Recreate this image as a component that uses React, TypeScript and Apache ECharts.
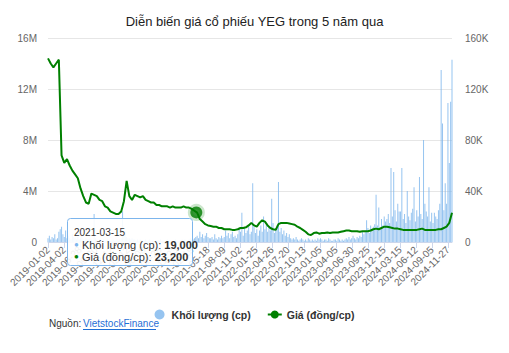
import React, { useEffect, useRef } from "react";
import * as echarts from "echarts";

// x axis: trading-day index, one label every 59 trading days
const tickLabels = [
  "2019-01-02", "2019-04-02", "2019-06-28", "2019-09-20", "2019-12-12",
  "2020-03-12", "2020-06-08", "2020-08-28", "2020-11-23", "2021-02-19",
  "2021-05-18", "2021-08-09", "2021-11-02", "2022-01-25", "2022-04-26",
  "2022-07-20", "2022-10-13", "2023-01-05", "2023-04-05", "2023-06-30",
  "2023-09-25", "2023-12-15", "2024-03-15", "2024-06-12", "2024-09-05",
  "2024-11-27",
];
const tickStep = 59;
const lastIndex = 1490;

// Price (thousand đồng/cp), one reading every 10 trading days
const priceStep = 10;
const priceK = [
  144, 140, 137, 140, 143, 68, 62, 65, 60, 56,
  53, 50, 42, 36, 31, 30, 38, 37, 36, 33,
  32, 28, 27, 24, 23, 22, 22, 24, 32, 48,
  36, 33, 37, 36, 35, 36, 33, 32, 31, 31,
  29, 29, 28, 28, 28, 27, 28, 27, 27, 27,
  28, 27, 27, 26, 24.5, 23, 18, 16, 14, 13,
  12.5, 12, 12, 11, 11, 10, 10, 10, 9.5, 9.5,
  10, 11, 11, 11.5, 13, 15, 13, 12, 15, 17,
  16, 13, 11, 10, 9.5, 14, 15, 15, 15, 14.5,
  14, 13.5, 12, 11, 9.5, 8, 6, 5.5, 7, 7.5,
  6.5, 7, 7, 7.5, 7, 7.5, 7.5, 7.5, 8, 8.5,
  9, 9, 8.5, 8.5, 8.5, 8, 8.5, 8.5, 8.5, 9,
  10, 10.5, 10, 11, 12, 12, 11.5, 11, 10.5, 10.5,
  10, 9.5, 9.5, 9.5, 9.5, 9.5, 9.5, 10, 10.5, 9.5,
  9.5, 9.5, 9.5, 9.5, 10, 10, 11, 12, 15, 23,
];

// Volume (million cp), one reading every 5 trading days
const volumeStep = 5;
const volumeM = [
  0.3, 0.5, 0.2, 0.4, 0.3, 0.6, 0.2, 0.3, 0.8, 1.0,
  1.2, 0.6, 0.4, 0.9, 0.3, 0.5, 0.3, 0.2, 0.6, 0.4,
  0.3, 0.2, 0.4, 0.2, 0.3, 0.5, 0.2, 0.1, 0.3, 0.2,
  0.2, 0.3, 0.2, 0.1, 2.2, 0.3, 0.2, 0.1, 0.2, 0.1,
  0.1, 0.2, 0.1, 0.1, 0.2, 0.1, 0.1, 0.1, 0.2, 0.1,
  0.1, 0.2, 0.1, 0.2, 0.3, 2.4, 0.5, 0.8, 0.4, 0.3,
  0.3, 0.2, 0.3, 0.2, 0.2, 0.1, 0.2, 0.1, 0.2, 0.1,
  0.1, 0.1, 0.2, 0.1, 0.1, 0.2, 0.1, 0.1, 0.1, 0.1,
  0.1, 0.1, 0.1, 0.2, 0.1, 0.1, 0.1, 0.1, 0.2, 0.1,
  0.1, 0.1, 0.1, 0.1, 0.2, 0.1, 0.1, 0.1, 0.1, 0.2,
  0.1, 0.2, 0.1, 0.1, 0.2, 0.3, 0.2, 0.2, 0.3, 0.4,
  0.5, 0.3, 0.8, 0.4, 0.6, 0.3, 0.5, 0.7, 0.4, 0.3,
  0.3, 0.4, 0.2, 0.6, 0.3, 0.2, 0.4, 0.3, 0.5, 0.3,
  0.4, 0.9, 0.5, 0.7, 0.3, 0.6, 0.8, 0.4, 0.5, 0.3,
  0.6, 1.0, 0.8, 2.3, 0.5, 1.1, 0.7, 0.9, 1.2, 0.6,
  0.8, 4.6, 1.2, 0.7, 1.0, 0.5, 0.9, 1.3, 0.8, 2.0,
  1.0, 1.4, 0.8, 1.2, 0.9, 3.4, 1.5, 0.7, 1.1, 1.3,
  4.7, 0.8, 1.1, 0.6, 0.9, 0.5, 0.7, 0.4, 0.6, 0.3,
  0.2, 0.3, 0.2, 0.4, 0.2, 0.1, 0.2, 0.3, 0.2, 0.1,
  0.2, 0.1, 0.3, 0.2, 0.1, 0.2, 0.1, 0.2, 0.1, 0.3,
  0.2, 0.3, 0.2, 0.1, 0.2, 0.2, 0.1, 0.3, 0.2, 0.1,
  0.1, 0.2, 0.2, 0.1, 0.3, 0.2, 0.1, 0.2, 0.1, 0.2,
  0.3, 0.2, 0.4, 0.2, 0.3, 0.5, 0.3, 0.2, 0.4, 0.3,
  0.5, 0.4, 0.8, 0.6, 0.9, 1.7, 1.1, 0.7, 1.3, 1.0,
  1.2, 1.4, 3.7, 1.3, 2.7, 1.0, 1.8, 1.3, 2.0, 1.6,
  1.8, 2.2, 1.5, 5.8, 2.0, 5.5, 2.5, 1.6, 3.0, 2.4,
  2.4, 5.8, 1.8, 2.2, 1.5, 4.0, 2.0, 1.7, 2.3, 2.6,
  4.3, 1.6, 2.5, 2.0, 5.1, 2.2, 1.8, 8.0, 3.0, 2.4,
  2.0, 4.3, 1.6, 2.3, 1.5, 2.3, 2.0, 1.8, 2.5, 3.0,
  13.5, 9.3, 2.5, 4.6, 3.0, 10.9, 6.2, 11.0, 14.3,
];

// Hovered point shown in the reference
const highlightIndex = 547;
const highlightDate = "2021-03-15";
const highlightVolume = 19000;
const highlightPrice = 23200;

const volName = "Khối lượng (cp)";
const priceName = "Giá (đồng/cp)";
const FONT = "'Liberation Sans', Arial, Helvetica, sans-serif";

export default function App() {
  const ref = useRef<HTMLDivElement>(null);
  useEffect(() => {
    if (!ref.current) return;
    const chart = echarts.init(ref.current, undefined, { renderer: "svg" });
    const priceData = priceK.map((p, i) => [i * priceStep, p * 1000]);
    const volumeData = volumeM.map((v, i) => [i * volumeStep, v * 1e6]);
    const fmt = (n: number) => n.toLocaleString("en-US");
    const TX = 67;
    const TY = 218;

    chart.setOption({
      animation: false,
      textStyle: { fontFamily: FONT },
      title: {
        text: "Diễn biến giá cổ phiếu YEG trong 5 năm qua",
        left: "center",
        top: 10,
        textStyle: { fontSize: 13, fontWeight: "normal", color: "#222222", fontFamily: FONT },
      },
      legend: {
        data: [{ name: volName, icon: "circle" }, { name: priceName }],
        left: "center",
        top: 304,
        itemWidth: 14,
        itemHeight: 10,
        itemGap: 16,
        textStyle: { fontSize: 10.5, fontWeight: "bold", color: "#333333", fontFamily: FONT },
      },
      grid: { left: 48, right: 57, top: 38, bottom: 111 },
      xAxis: {
        type: "value",
        min: 0,
        max: lastIndex,
        interval: tickStep,
        axisLine: { lineStyle: { color: "#ccd6eb" } },
        axisTick: { length: 6, lineStyle: { color: "#ccd6eb" } },
        splitLine: { show: false },
        axisLabel: {
          rotate: 45,
          fontSize: 10,
          color: "#666666",
          margin: 6,
          showMaxLabel: false,
          formatter: (v: number) => (v % tickStep === 0 ? tickLabels[v / tickStep] ?? "" : ""),
        },
      },
      yAxis: [
        {
          type: "value",
          min: 0,
          max: 16e6,
          interval: 4e6,
          axisLine: { show: false },
          axisTick: { show: false },
          splitLine: { lineStyle: { color: "#e6e6e6" } },
          axisLabel: {
            fontSize: 10,
            color: "#666666",
            margin: 11,
            formatter: (v: number) => (v === 0 ? "0" : v / 1e6 + "M"),
          },
        },
        {
          type: "value",
          min: 0,
          max: 160000,
          interval: 40000,
          axisLine: { show: false },
          axisTick: { show: false },
          splitLine: { show: false },
          axisLabel: {
            fontSize: 10,
            color: "#666666",
            margin: 13,
            formatter: (v: number) => (v === 0 ? "0" : v / 1000 + "K"),
          },
        },
      ],
      series: [
        {
          name: volName,
          type: "bar",
          yAxisIndex: 0,
          barWidth: 1,
          data: volumeData,
          itemStyle: { color: "#7cb5ec", opacity: 0.8 },
          emphasis: { disabled: true },
          z: 2,
        },
        {
          name: priceName,
          type: "line",
          yAxisIndex: 1,
          data: priceData,
          symbol: "circle",
          symbolSize: 6,
          showSymbol: false,
          lineStyle: { color: "#008000", width: 2 },
          itemStyle: { color: "#008000" },
          emphasis: { disabled: true },
          z: 3,
        },
        {
          name: "hover",
          type: "scatter",
          yAxisIndex: 1,
          data: [[highlightIndex, highlightPrice]],
          symbolSize: 12,
          itemStyle: {
            color: "#007a00",
            borderColor: "rgba(0,128,0,0.25)",
            borderWidth: 5,
          },
          emphasis: { disabled: true },
          z: 4,
        },
      ],
      graphic: [
        {
          type: "rect",
          z: 100,
          shape: { x: TX + 0.5, y: TY + 0.5, width: 125, height: 47, r: 3 },
          style: { fill: "rgba(255,255,255,0.9)", stroke: "#7cb5ec", lineWidth: 1 },
        },
        {
          type: "text",
          z: 101,
          x: TX + 7,
          y: TY + 9,
          style: { text: highlightDate, fontSize: 10, fill: "#333333", fontFamily: FONT },
        },
        {
          type: "text",
          z: 101,
          x: TX + 7,
          y: TY + 21,
          style: {
            text: `{d|●} ${volName}: {b|${fmt(highlightVolume)}}`,
            fontSize: 11,
            fill: "#333333",
            fontFamily: FONT,
            rich: {
              d: { fill: "#7cb5ec", fontSize: 8, fontFamily: FONT },
              b: { fontWeight: "bold", fontSize: 11, fill: "#333333", fontFamily: FONT },
            },
          },
        },
        {
          type: "text",
          z: 101,
          x: TX + 7,
          y: TY + 33,
          style: {
            text: `{d|●} ${priceName}: {b|${fmt(highlightPrice)}}`,
            fontSize: 11,
            fill: "#333333",
            fontFamily: FONT,
            rich: {
              d: { fill: "#008000", fontSize: 8, fontFamily: FONT },
              b: { fontWeight: "bold", fontSize: 11, fill: "#333333", fontFamily: FONT },
            },
          },
        },
        {
          type: "text",
          left: 49,
          top: 318,
          style: { text: "Nguồn: ", fontSize: 10, fill: "#333333", fontFamily: FONT },
        },
        {
          type: "text",
          left: 83,
          top: 318,
          style: { text: "VietstockFinance", fontSize: 10, fill: "#1f6fd6", fontFamily: FONT },
        },
        {
          type: "line",
          shape: { x1: 83, y1: 329.5, x2: 156, y2: 329.5 },
          style: { stroke: "#1f6fd6", lineWidth: 1 },
        },
      ],
    });
    return () => chart.dispose();
  }, []);
  return (
    <div
      ref={ref}
      style={{ position: "fixed", left: 0, top: 0, width: 509, height: 353, background: "#fff" }}
    />
  );
}
